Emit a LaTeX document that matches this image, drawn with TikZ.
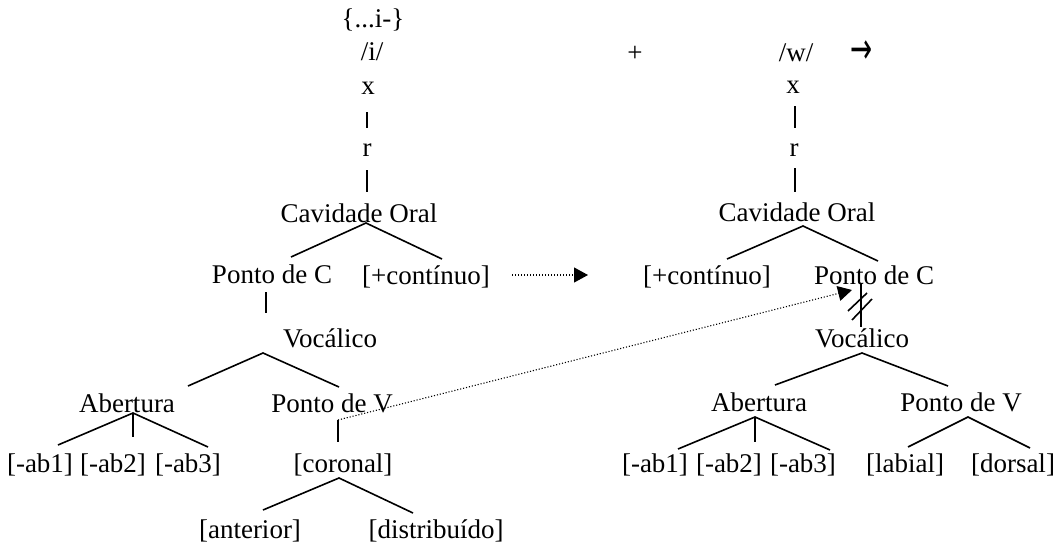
\documentclass[tikz,border=0pt]{standalone}
\usepackage{fontspec}
\setmainfont{Liberation Serif}
\newfontfamily\arrowfont{DejaVu Sans}
\usetikzlibrary{arrows.meta}
\begin{document}
\begin{tikzpicture}[x=1pt,y=-1pt,
  lbl/.style={anchor=base,inner sep=0pt,font=\fontsize{27}{32}\selectfont},
  br/.style={line width=1.6pt},
  dotarrow/.style={line width=1.1pt,dash pattern=on 1.1pt off 1.9pt,
    -{Triangle[length=14pt,width=15pt]}}]
\useasboundingbox (0,0) rectangle (1061,544);
% ---------- left tree ----------
\node[lbl] (Lbr) at (373,27) {\{...i-\}};
\node[lbl] (Li) at (372,60) {/i/};
\node[lbl] (Lx) at (368,94) {x};
\node[lbl] (Lr) at (367,156) {r};
\node[lbl] (Lcav) at (359,222) {Cavidade Oral};
\node[lbl] (Lpc) at (272,283) {Ponto de C};
\node[lbl] (Lcont) at (426,284) {[+contínuo]};
\node[lbl] (Lvoc) at (330,347) {Vocálico};
\node[lbl] (Lab) at (127,412) {Abertura};
\node[lbl] (Lpv) at (332,412) {Ponto de V};
\node[lbl] (Lab1) at (40,472) {[-ab1]};
\node[lbl] (Lab2) at (113,472) {[-ab2]};
\node[lbl] (Lab3) at (188,472) {[-ab3]};
\node[lbl] (Lcor) at (343,472) {[coronal]};
\node[lbl] (Lant) at (250,538) {[anterior]};
\node[lbl] (Ldis) at (436,538) {[distribuído]};
% branch points
\coordinate (Lx1) at (367,112); \coordinate (Lr1) at (367,128);
\coordinate (Lr2) at (367,170); \coordinate (Lc1) at (367,192);
\coordinate (Lcavb) at (366,223);
\coordinate (Lpct) at (291,257); \coordinate (Lcontt) at (442,259);
\coordinate (Lpcb) at (266,292); \coordinate (Lvoct) at (266,313);
\coordinate (Lvocb) at (263,353);
\coordinate (Labt) at (188,386); \coordinate (Lpvt) at (339,387);
\coordinate (Labb) at (133,413);
\coordinate (Lab1t) at (58,445); \coordinate (Lab2t) at (133,437); \coordinate (Lab3t) at (208,447);
\coordinate (Lpvb) at (338,420); \coordinate (Lcort) at (338,442);
\coordinate (Lcorb) at (339,478);
\coordinate (Lantt) at (263,510); \coordinate (Ldist) at (413,513);
\draw[br] (Lx1) -- (Lr1);
\draw[br] (Lr2) -- (Lc1);
\draw[br] (Lpct) -- (Lcavb) -- (Lcontt);
\draw[br] (Lpcb) -- (Lvoct);
\draw[br] (Labt) -- (Lvocb) -- (Lpvt);
\draw[br] (Lab1t) -- (Labb) -- (Lab3t);
\draw[br] (Labb) -- (Lab2t);
\draw[br] (Lpvb) -- (Lcort);
\draw[br] (Lantt) -- (Lcorb) -- (Ldist);
% ---------- middle ----------
\node[lbl] (plus) at (635,61) {+};
\node[inner sep=0pt,xscale=1.1,yscale=1.8,font=\arrowfont\fontsize{24}{28}\selectfont] (arr) at (862,52) {→};
% ---------- right tree ----------
\node[lbl] (Rw) at (796,61) {/w/};
\node[lbl] (Rx) at (793,93) {x};
\node[lbl] (Rr) at (794,156) {r};
\node[lbl] (Rcav) at (797,221) {Cavidade Oral};
\node[lbl] (Rcont) at (707,284) {[+contínuo]};
\node[lbl] (Rpc) at (874,284) {Ponto de C};
\node[lbl] (Rvoc) at (862,347) {Vocálico};
\node[lbl] (Rab) at (759,411) {Abertura};
\node[lbl] (Rpv) at (961,411) {Ponto de V};
\node[lbl] (Rab1) at (655,472) {[-ab1]};
\node[lbl] (Rab2) at (729,472) {[-ab2]};
\node[lbl] (Rab3) at (803,472) {[-ab3]};
\node[lbl] (Rlab) at (905,472) {[labial]};
\node[lbl] (Rdor) at (1013,472) {[dorsal]};
\coordinate (Rx1) at (795,106); \coordinate (Rr1) at (795,128);
\coordinate (Rr2) at (795,168); \coordinate (Rc1) at (795,192);
\coordinate (Rcavb) at (803,226);
\coordinate (Rcontt) at (727,259); \coordinate (Rpct) at (878,261);
\coordinate (Rpcb) at (861,283); \coordinate (Rvoct) at (861,327);
\coordinate (Rvocb) at (862,353);
\coordinate (Rabt) at (775,385); \coordinate (Rpvt) at (948,386);
\coordinate (Rabb) at (755,417);
\coordinate (Rab1t) at (678,449); \coordinate (Rab2t) at (755,442); \coordinate (Rab3t) at (830,450);
\coordinate (Rpvb) at (968,417);
\coordinate (Rlabt) at (908,447); \coordinate (Rdort) at (1030,448);
\draw[br] (Rx1) -- (Rr1);
\draw[br] (Rr2) -- (Rc1);
\draw[br] (Rcontt) -- (Rcavb) -- (Rpct);
\draw[br] (Rpcb) -- (Rvoct);
\draw[br] (848,311) -- (867,293);
\draw[br] (852,320) -- (872,299);
\draw[br] (Rabt) -- (Rvocb) -- (Rpvt);
\draw[br] (Rab1t) -- (Rabb) -- (Rab3t);
\draw[br] (Rabb) -- (Rab2t);
\draw[br] (Rlabt) -- (Rpvb) -- (Rdort);
% ---------- dotted arrows ----------
\coordinate (d1s) at (512,275); \coordinate (d1e) at (588,275);
\draw[dotarrow] (d1s) -- (d1e);
\coordinate (d2e) at (852,290);
\draw[dotarrow] (Lpvb) -- (d2e);
\end{tikzpicture}
\end{document}
